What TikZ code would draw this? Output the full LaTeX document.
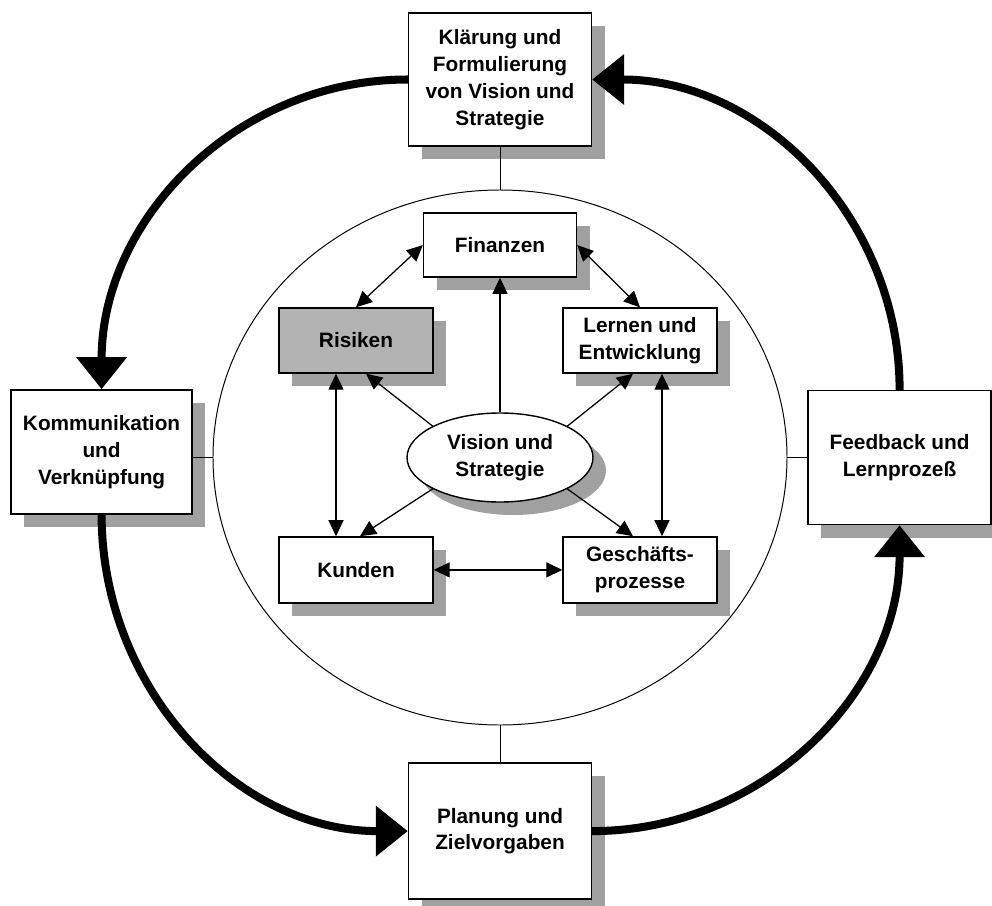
\documentclass[tikz,border=0pt]{standalone}
\usepackage{fontspec}
\setmainfont{Liberation Sans}
\usetikzlibrary{shapes.geometric,shadows,arrows.meta}
\definecolor{shadowgray}{RGB}{160,160,160}
\definecolor{riskgray}{RGB}{179,179,179}

\begin{document}
\begin{tikzpicture}[
    font=\bfseries\fontsize{14.8}{19.1}\selectfont,
    shadowed/.style={drop shadow={shadow xshift=0.325cm,shadow yshift=-0.325cm,fill=shadowgray,opacity=1}},
    outerbox/.style={draw,line width=1pt,fill=white,shadowed,align=center,minimum width=4.575cm,inner sep=2pt},
    innerbox/.style={draw,line width=1pt,fill=white,shadowed,align=center,minimum width=3.85cm,minimum height=1.625cm,inner sep=2pt},
    link/.style={line width=0.9pt,{Triangle[length=0.4cm,width=0.375cm]}-{Triangle[length=0.4cm,width=0.375cm]}},
    flow/.style={line width=0.9pt,-{Triangle[length=0.4cm,width=0.375cm]}},
    bigarc/.style={line width=5.7pt,-{Triangle[length=0.8cm,width=1.22cm]}}
]
    \useasboundingbox (-12.5,-11.1875) rectangle (12.3,11.4375);

    % Outer ring
    \node[draw,ellipse,line width=0.7pt,minimum width=14.35cm,minimum height=13.375cm,inner sep=0pt] (ring) at (0,0) {};

    % Outer boxes
    \node[outerbox,minimum height=3.325cm] (klar) at (0,9.45) {Klärung und\\Formulierung\\von Vision und\\Strategie};
    \node[outerbox,minimum width=4.525cm,minimum height=3.1cm] (komm) at (-9.96,0.14) {Kommunikation\\und\\Verknüpfung};
    \node[outerbox,minimum height=3.35cm] (feed) at (9.99,0) {Feedback und\\Lernprozeß};
    \node[outerbox,minimum height=3.4cm] (plan) at (0,-9.34) {Planung und\\Zielvorgaben};

    % Inner boxes
    \node[innerbox,minimum width=3.825cm,minimum height=1.6cm] (fin) at (0,5.31) {Finanzen};
    \node[innerbox,fill=riskgray] (ris) at (-3.6,2.925) {Risiken};
    \node[innerbox] (lern) at (3.5,2.925) {Lernen und\\Entwicklung};
    \node[innerbox,minimum height=1.65cm] (kun) at (-3.6,-2.81) {Kunden};
    \node[innerbox,minimum height=1.65cm] (gesch) at (3.5,-2.81) {Geschäfts-\\prozesse};
    \node[draw,ellipse,line width=1pt,fill=white,shadowed,align=center,minimum width=4.65cm,minimum height=2.225cm,inner sep=0pt] (vis) at (0,0) {Vision und\\Strategie};

    % Links to the ring
    \draw[line width=0.7pt] (klar.south) -- (ring.north);
    \draw[line width=0.7pt] (plan.north) -- (ring.south);
    \draw[line width=0.7pt] (komm.east |- ring.west) -- (ring.west);
    \draw[line width=0.7pt] (ring.east) -- (feed.west |- ring.east);

    % Inner arrows
    \draw[flow] (vis.north) -- (fin.south);
    \draw[flow] (vis.155) -- ([xshift=0.25cm]ris.south);
    \draw[flow] (vis.25) -- ([xshift=-0.175cm]lern.south);
    \draw[flow] (vis.205) -- ([xshift=0.1cm]kun.north);
    \draw[flow] (vis.-25) -- ([xshift=-0.175cm]gesch.north);
    \draw[link] (fin.west) -- (ris.north);
    \draw[link] (fin.east) -- (lern.north);
    \draw[link] ([xshift=-0.5cm]ris.south) -- ([xshift=-0.5cm]kun.north);
    \draw[link] ([xshift=0.55cm]lern.south) -- ([xshift=0.55cm]gesch.north);
    \draw[link] (kun.east) -- (gesch.west);

    % Cycle
    \draw[bigarc] (klar.west) to[out=180,in=90] (komm.north);
    \draw[bigarc] (komm.south) to[out=-90,in=180] (plan.west);
    \draw[bigarc] (plan.east) to[out=0,in=-90] (feed.south);
    \draw[bigarc] (feed.north) to[out=90,in=0] (klar.east);
\end{tikzpicture}
\end{document}
